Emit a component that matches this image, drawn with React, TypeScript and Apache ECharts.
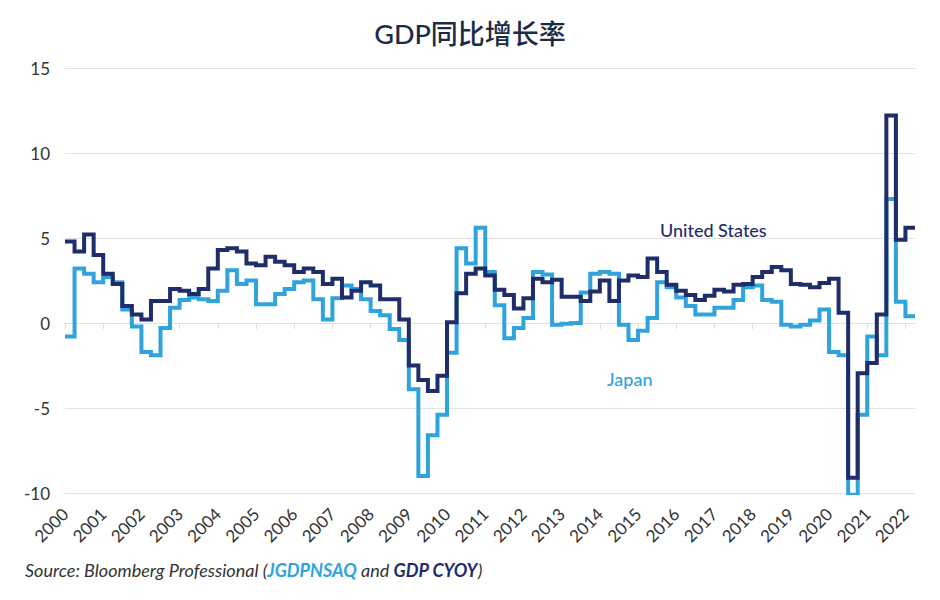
import React, { useEffect, useRef } from "react";
import * as echarts from "echarts";

// year tick labels; each year has four quarterly boundaries on the axis
const years = [
  "2000", "2001", "2002", "2003", "2004", "2005", "2006", "2007", "2008", "2009", "2010", "2011",
  "2012", "2013", "2014", "2015", "2016", "2017", "2018", "2019", "2020", "2021", "2022",
];
const quarters = ["Q1", "Q2", "Q3", "Q4"];

// YoY GDP growth (%), quarterly, 1999Q4 .. 2021Q4 (each value drawn as one step)
const usGrowth = [
  4.8, 4.2, 5.2, 4.0, 2.9, 2.3, 1.0, 0.5, 0.2, 1.3,
  1.3, 2.0, 1.9, 1.7, 2.0, 3.2, 4.3, 4.4, 4.2, 3.5,
  3.4, 3.9, 3.6, 3.4, 3.0, 3.2, 3.0, 2.3, 2.6, 1.5,
  1.9, 2.4, 2.2, 1.4, 1.4, 0.2, -2.5, -3.35, -4.0, -3.1,
  0.05, 1.75, 2.9, 3.2, 2.8, 1.95, 1.65, 0.85, 1.45, 2.6,
  2.4, 2.55, 1.55, 1.55, 1.3, 1.85, 2.5, 1.3, 2.5, 2.8,
  2.7, 3.8, 3.0, 2.25, 1.9, 1.65, 1.35, 1.6, 1.95, 1.85,
  2.25, 2.3, 2.7, 3.0, 3.3, 3.1, 2.3, 2.25, 2.1, 2.35,
  2.6, 0.6, -9.1, -2.95, -2.35, 0.5, 12.2, 4.9, 5.6,
];
const japanGrowth = [
  -0.8, 3.2, 2.9, 2.4, 2.7, 2.4, 0.8, -0.2, -1.7, -1.9,
  -0.3, 0.9, 1.35, 1.5, 1.4, 1.3, 1.9, 3.1, 2.3, 2.5,
  1.1, 1.1, 1.7, 2.0, 2.4, 2.5, 1.4, 0.2, 1.45, 2.2,
  2.0, 1.4, 0.7, 0.45, -0.35, -1.0, -3.9, -9.0, -6.6, -5.4,
  -1.75, 4.4, 3.5, 5.6, 3.0, 1.05, -0.9, -0.3, 0.3, 3.0,
  2.85, -0.1, -0.05, 0.0, 1.8, 2.9, 3.0, 2.9, -0.1, -1.0,
  -0.45, 0.3, 2.4, 2.1, 1.5, 1.0, 0.5, 0.5, 0.9, 0.9,
  1.35, 2.1, 2.2, 1.35, 1.25, -0.1, -0.2, -0.1, 0.15, 0.8,
  -1.7, -1.9, -10.1, -5.4, -0.8, -1.9, 7.3, 1.25, 0.4,
];

const US_COLOR = "#1f2d6b";
const JP_COLOR = "#2ea3dc";
const FONT = "Lato, 'Noto Sans CJK SC', sans-serif";

// axis boundaries: one more than the number of steps
const categories = years
  .flatMap((y) => quarters.map((q) => y + q))
  .slice(0, usGrowth.length + 1);

// repeat the last value so the final step gets its closing edge
const closeStep = (arr: number[]) => [...arr, arr[arr.length - 1]];

const isYear = (index: number) => index % 4 === 0;

const App: React.FC = () => {
  const chartRef = useRef<HTMLDivElement>(null);

  useEffect(() => {
    document.body.style.margin = "0";
    if (!chartRef.current) return;
    const chart = echarts.init(chartRef.current, undefined, { renderer: "svg" });

    const option: echarts.EChartsOption = {
      animation: false,
      backgroundColor: "#ffffff",
      textStyle: { fontFamily: FONT },
      title: {
        text: "GDP同比增长率",
        left: "center",
        top: 15,
        textStyle: {
          fontFamily: FONT,
          fontSize: 27,
          fontWeight: 500,
          color: "#1c2b45",
        },
      },
      grid: { left: 65, right: 25, top: 68, bottom: 107 },
      xAxis: [
        {
          type: "category",
          data: categories,
          boundaryGap: false,
          axisLine: { onZero: true, lineStyle: { color: "#e2e2e2", width: 1 } },
          axisTick: {
            show: true,
            interval: (i: number) => isYear(i),
            length: 6,
            lineStyle: { color: "#dddddd" },
          },
          axisLabel: { show: false },
          splitLine: { show: false },
        },
        {
          type: "category",
          data: categories,
          boundaryGap: false,
          position: "bottom",
          axisLine: { show: false, onZero: false },
          axisTick: { show: false },
          axisLabel: {
            interval: (i: number) => isYear(i),
            formatter: (v: string) => v.slice(0, 4),
            rotate: 45,
            margin: 18,
            fontSize: 17,
            color: "#333333",
            fontFamily: FONT,
          },
          splitLine: { show: false },
        },
      ],
      yAxis: {
        type: "value",
        min: -10,
        max: 15,
        interval: 5,
        axisLine: { show: false },
        axisTick: { show: false },
        axisLabel: { fontSize: 17, color: "#333333", margin: 15, fontFamily: FONT },
        splitLine: { lineStyle: { color: "#e2e2e2", width: 1 } },
      },
      series: [
        {
          name: "Japan",
          type: "line",
          step: "end",
          xAxisIndex: 0,
          data: closeStep(japanGrowth),
          showSymbol: false,
          symbol: "none",
          lineStyle: { color: JP_COLOR, width: 4, join: "miter" } as any,
          itemStyle: { color: JP_COLOR },
          z: 2,
        },
        {
          name: "United States",
          type: "line",
          step: "end",
          xAxisIndex: 0,
          data: closeStep(usGrowth),
          showSymbol: false,
          symbol: "none",
          lineStyle: { color: US_COLOR, width: 4, join: "miter" } as any,
          itemStyle: { color: US_COLOR },
          z: 3,
        },
      ],
      graphic: [
        {
          type: "text",
          left: 660,
          top: 221,
          style: {
            text: "United States",
            fontSize: 18,
            fontWeight: 500,
            fill: US_COLOR,
            fontFamily: FONT,
          },
        },
        {
          type: "text",
          left: 607,
          top: 370,
          style: {
            text: "Japan",
            fontSize: 18,
            fontWeight: 500,
            fill: JP_COLOR,
            fontFamily: FONT,
          },
        },
        {
          type: "text",
          left: 25,
          top: 561,
          style: {
            text: "{n|Source: Bloomberg Professional (}{j|JGDPNSAQ}{n| and }{u|GDP CYOY}{n|)}",
            fontFamily: FONT,
            rich: {
              n: { fontSize: 18, fontStyle: "italic", fill: "#333333", fontFamily: FONT },
              j: { fontSize: 18, fontStyle: "italic", fontWeight: "bold", fill: JP_COLOR, fontFamily: FONT },
              u: { fontSize: 18, fontStyle: "italic", fontWeight: "bold", fill: US_COLOR, fontFamily: FONT },
            },
          } as any,
        },
      ],
    };

    chart.setOption(option);
    return () => {
      chart.dispose();
    };
  }, []);

  return <div ref={chartRef} style={{ width: 940, height: 600 }} />;
};

export default App;
